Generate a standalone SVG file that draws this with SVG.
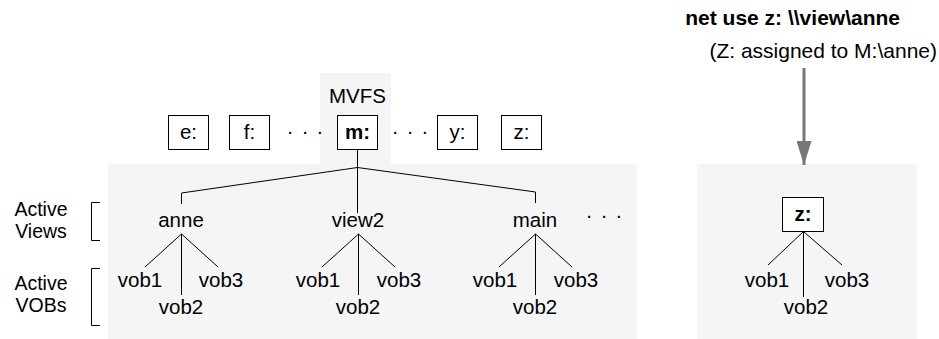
<svg xmlns="http://www.w3.org/2000/svg" width="939" height="339" viewBox="0 0 939 339">
<style>
text{font-family:"Liberation Sans",Arial,sans-serif;font-size:20.5px;fill:#000}
.c{text-anchor:middle}
.b{font-weight:bold}
.lab{font-size:19.5px}
.t{font-size:21px;text-anchor:end}
.panel{fill:#f5f5f5}
.box{fill:#fff;stroke:#000;stroke-width:1}
.ln{stroke:#000;stroke-width:1;fill:none}
.br{stroke:#000;stroke-width:1;fill:none}
.dots{word-spacing:3.5px}
</style>
<defs>
<marker id="ah" markerWidth="24" markerHeight="15" refX="24" refY="7.5" orient="auto" markerUnits="userSpaceOnUse" viewBox="0 0 24 15">
<polygon points="0,0 24,7.5 0,15" fill="#777"/>
</marker>
</defs>
<g id="panels">
<rect class="panel" x="320" y="73" width="71" height="92"/>
<rect class="panel" x="108" y="164" width="529" height="175"/>
<rect class="panel" x="697" y="164" width="220" height="175"/>
</g>
<g id="labels">
<text x="41" y="216" class="c lab">Active</text>
<text x="41" y="238" class="c lab">Views</text>
<text x="41" y="290" class="c lab">Active</text>
<text x="41" y="312" class="c lab">VOBs</text>
<path class="br" d="M100,202.5H91.5V240.5H100"/>
<path class="br" d="M100,268.5H91.5V325.5H100"/>
</g>
<g id="mvfs"><text x="357.5" y="103" class="c">MVFS</text></g>
<g id="drive-e"><rect class="box" x="168.5" y="115.5" width="40" height="34"/><text x="188.5" y="139" class="c">e:</text></g>
<g id="drive-f"><rect class="box" x="229.5" y="115.5" width="40" height="34"/><text x="249.5" y="139" class="c">f:</text></g>
<g id="dots1"><text x="305" y="134" class="c dots">. . .</text></g>
<g id="drive-m"><rect class="box" x="337.5" y="115.5" width="40" height="34"/><text x="357.5" y="139" class="c b">m:</text></g>
<g id="dots2"><text x="410" y="134" class="c dots">. . .</text></g>
<g id="drive-y"><rect class="box" x="437.5" y="115.5" width="40" height="34"/><text x="457.5" y="139" class="c">y:</text></g>
<g id="drive-z"><rect class="box" x="501.5" y="115.5" width="40" height="34"/><text x="521.5" y="139" class="c">z:</text></g>
<g id="view-anne"><text x="181" y="227" class="c">anne</text></g>
<g id="view-view2"><text x="358" y="227" class="c">view2</text></g>
<g id="view-main"><text x="535" y="227" class="c">main</text></g>
<g id="dots3"><text x="604" y="218" class="c dots">. . .</text></g>
<g id="anne-vobs"><text x="140" y="287" class="c">vob1</text><text x="181" y="314" class="c">vob2</text><text x="221" y="287" class="c">vob3</text></g>
<g id="view2-vobs"><text x="318" y="287" class="c">vob1</text><text x="358" y="314" class="c">vob2</text><text x="399" y="287" class="c">vob3</text></g>
<g id="main-vobs"><text x="495" y="287" class="c">vob1</text><text x="535" y="314" class="c">vob2</text><text x="576" y="287" class="c">vob3</text></g>
<g id="drive-z2"><rect class="box" x="782.5" y="197.5" width="41" height="34"/><text x="803" y="221" class="c b">z:</text></g>
<g id="z-vobs"><text x="767" y="287" class="c">vob1</text><text x="806" y="314" class="c">vob2</text><text x="847" y="287" class="c">vob3</text></g>
<g id="cmd"><text x="900" y="25" class="t b">net use z: \\view\anne</text><text x="937" y="58" class="t">(Z: assigned to M:\anne)</text></g>
<g id="connectors">
<path class="ln" d="M357.5,150V167.5L181.5,193V204"/>
<path class="ln" d="M357.5,167.5V213"/>
<path class="ln" d="M357.5,167.5L535.5,192V203"/>
<path class="ln" d="M181.5,234L145,267M181.5,234L218,267M181.5,234V295"/>
<path class="ln" d="M358.5,234L322,267M358.5,234L395,267M358.5,234V295"/>
<path class="ln" d="M535.5,234L499,267M535.5,234L572,267M535.5,234V295"/>
<path class="ln" d="M803.5,231.5L768,265M803.5,231.5L842,265M803.5,231.5V297"/>
<path d="M804,68V165" stroke="#777" stroke-width="3" fill="none" marker-end="url(#ah)"/>
</g>
</svg>
